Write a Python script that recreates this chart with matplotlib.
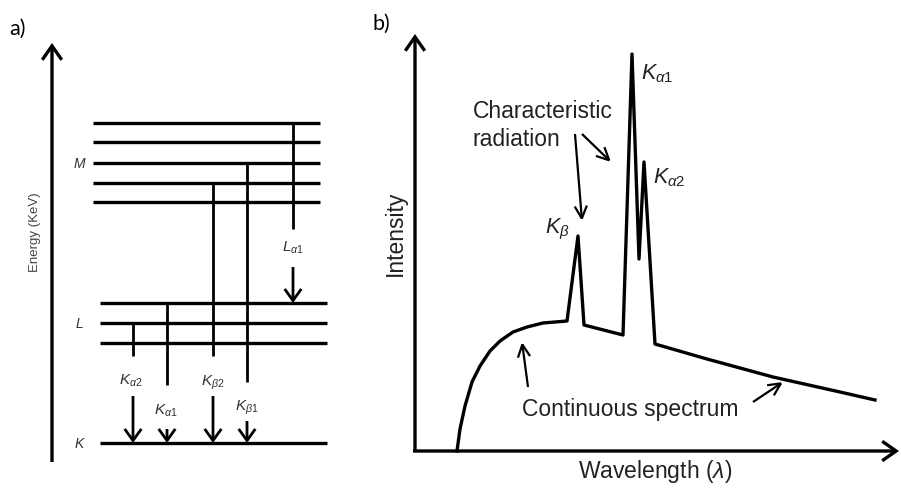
import matplotlib
matplotlib.use("Agg")
import matplotlib.pyplot as plt
from matplotlib.patches import FancyArrowPatch

plt.rcParams['font.family'] = ['Liberation Sans', 'DejaVu Sans']
plt.rcParams['mathtext.fontset'] = 'custom'
plt.rcParams['mathtext.rm'] = 'Liberation Sans'
plt.rcParams['mathtext.it'] = 'Liberation Sans:italic'
plt.rcParams['mathtext.bf'] = 'Liberation Sans:bold'

###############################################
## Panel a: energy levels (drawing units, y grows downward)
###############################################

m_levels = [124, 143, 164, 184, 203]
l_levels = [304, 324, 344]
k_levels = [444]
m_span = (93, 320)
l_span = (100, 327)
k_span = (100, 327)
shell_names = ['M', 'L', 'K']
shell_label_y = [164, 324, 444]

# name, x, start, line end, label x, label y, arrow start, arrow end
line_names = [r'$L_{\alpha1}$', r'$K_{\alpha2}$', r'$K_{\alpha1}$', r'$K_{\beta2}$', r'$K_{\beta1}$']
line_x = [293, 133, 167, 213, 247]
line_top = [124, 324, 304, 184, 164]
line_end = [230, 357, 386, 357, 383]
label_x = [293, 131, 166, 213, 247]
label_y = [248, 381, 411, 383, 408]
arrow_top = [268, 397, 430, 397, 422]
arrow_tip = [304, 444, 444, 444, 444]

###############################################
## Panel b: spectrum (drawing units)
###############################################

spec_x = [457, 460, 465, 472, 480, 490, 500, 513, 527, 543, 567,
          578, 584, 623, 632, 639, 644, 655, 707, 773, 840, 875]
spec_y = [452, 430, 407, 383, 367, 352, 342, 333, 328, 324, 322,
          237, 326, 336, 55, 260, 163, 345, 360, 378, 393, 401]

peak_names = [r'$K_\beta$', r'$K_{\alpha1}$', r'$K_{\alpha2}$']
peak_label_x = [545, 641, 653]
peak_label_y = [233, 79, 183]

fig = plt.figure(figsize=(9.01, 4.89), dpi=100)
ax = fig.add_axes([0, 0, 1, 1])
ax.set_xlim(0, 901)
ax.set_ylim(489, 0)
ax.axis('off')


def arrow(x0, y0, x1, y1, lw, hl=0.45, hw=0.28, scale=20):
    a = FancyArrowPatch((x0, y0), (x1, y1),
                        arrowstyle='->,head_length={},head_width={}'.format(hl, hw),
                        mutation_scale=scale, lw=lw, color='black',
                        shrinkA=0, shrinkB=0, joinstyle='miter', capstyle='butt')
    ax.add_patch(a)


## Panel a

ax.text(9, 35, 'a)', fontsize=15.5, family='Lato', va='baseline')
arrow(52, 463, 52, 44, 2.4, hl=0.5, hw=0.35)
ax.text(35, 232, 'Energy (KeV)', rotation=90, fontsize=9.5, color='#444444',
        ha='center', va='center')

for levels, span in zip([m_levels, l_levels, k_levels], [m_span, l_span, k_span]):
    for y in levels:
        ax.plot(span, [y, y], color='black', lw=2.4, solid_capstyle='butt')

for name, y in zip(shell_names, shell_label_y):
    ax.text(79, y, name, fontsize=10, style='italic', color='#333333',
            ha='center', va='center')

for i in range(len(line_names)):
    ax.plot([line_x[i], line_x[i]], [line_top[i], line_end[i]], color='black',
            lw=2.0, solid_capstyle='butt')
    arrow(line_x[i], arrow_top[i], line_x[i], arrow_tip[i], 2.0, hl=0.42, hw=0.3)
    ax.text(label_x[i], label_y[i], line_names[i], fontsize=11, color='#333333',
            ha='center', va='center')

## Panel b

ax.text(372, 30, 'b)', fontsize=15.5, family='Lato', va='baseline')
arrow(415, 453, 415, 35, 2.4, hl=0.5, hw=0.35)
arrow(413, 452, 899, 452, 2.4, hl=0.5, hw=0.35)

ax.plot(spec_x, spec_y, color='black', lw=2.4, solid_joinstyle='round')

ax.text(395, 233, 'Intensity', rotation=90, fontsize=16.5, color='#222222',
        ha='center', va='center')
ax.text(655, 478, r'Wavelength ($\lambda$)', fontsize=16.5, color='#222222',
        ha='center', va='baseline')

ax.text(473, 118, 'Characteristic', fontsize=16.5, color='#222222', va='baseline')
ax.text(473, 146, 'radiation', fontsize=16.5, color='#222222', va='baseline')
arrow(575, 135, 582, 222, 1.6, hl=0.45, hw=0.22)
arrow(582, 135, 611, 163, 1.6, hl=0.45, hw=0.22)

ax.text(522, 416, 'Continuous spectrum', fontsize=16.5, color='#222222', va='baseline')
arrow(528, 388, 522, 343, 1.6, hl=0.45, hw=0.22)
arrow(753, 403, 783, 383, 1.6, hl=0.45, hw=0.22)

for name, x, y in zip(peak_names, peak_label_x, peak_label_y):
    ax.text(x, y, name, fontsize=15.5, color='#222222', va='baseline')

fig.savefig('out.png', dpi=100)
